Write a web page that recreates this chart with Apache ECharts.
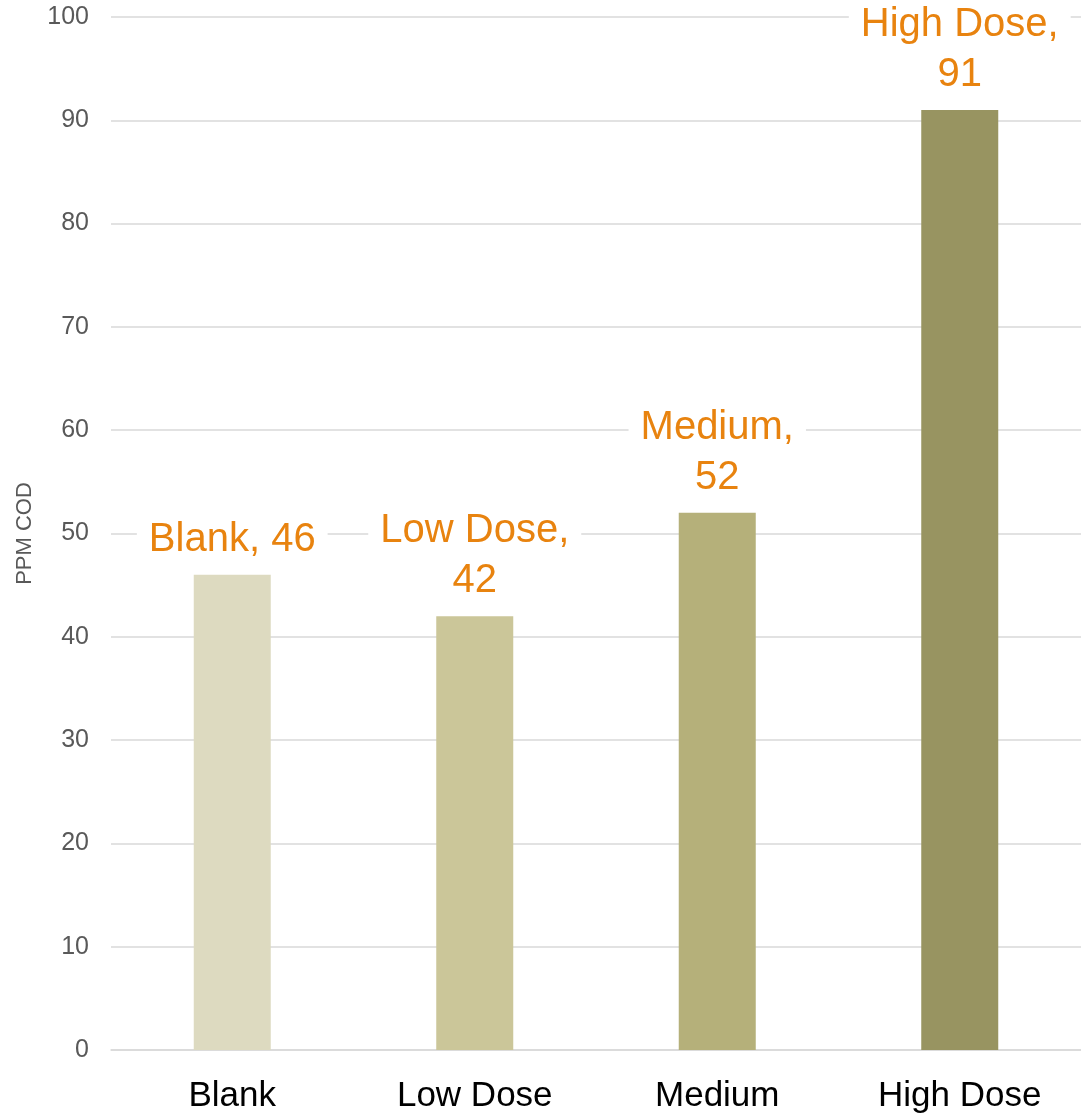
<!DOCTYPE html>
<html>
<head>
<meta charset="utf-8">
<script src="https://cdn.jsdelivr.net/npm/echarts@6/dist/echarts.min.js"></script>
<style>
  html, body { margin: 0; padding: 0; background: #ffffff; }
  #chart { width: 1081px; height: 1117px; }
</style>
</head>
<body>
<div id="chart"></div>
<script>
// Chemical oxygen demand by treatment
const categories = ['Blank', 'Low Dose', 'Medium', 'High Dose'];
const codValues = [46, 42, 52, 91];
const barColors = ['#DDDAC0', '#CBC699', '#B5B07A', '#989461'];
const labelTexts = ['Blank, 46', 'Low Dose,\n42', 'Medium,\n52', 'High Dose,\n91'];

const chart = echarts.init(document.getElementById('chart'));

chart.setOption({
  animation: false,
  backgroundColor: '#ffffff',
  grid: { left: 111, width: 975, top: 17, bottom: 67, containLabel: false },
  xAxis: {
    type: 'category',
    data: categories,
    axisLine: { show: true, lineStyle: { color: '#d9d9d9', width: 1.5 } },
    axisTick: { show: false },
    axisLabel: {
      color: '#000000',
      fontSize: 35,
      fontFamily: 'Liberation Sans, Arial, sans-serif',
      margin: 29
    }
  },
  yAxis: {
    type: 'value',
    min: 0,
    max: 100,
    interval: 10,
    name: 'PPM COD',
    nameLocation: 'middle',
    nameGap: 74,
    nameTextStyle: {
      color: '#595959',
      fontSize: 22,
      fontFamily: 'Liberation Sans, Arial, sans-serif'
    },
    axisLine: { show: false },
    axisTick: { show: false },
    splitLine: { lineStyle: { color: '#d9d9d9', width: 1.5 } },
    axisLabel: {
      color: '#595959',
      fontSize: 25,
      fontFamily: 'Liberation Sans, Arial, sans-serif',
      margin: 22
    }
  },
  series: [{
    type: 'bar',
    barWidth: 77,
    data: codValues.map((v, i) => ({
      value: v,
      itemStyle: { color: barColors[i] },
      label: { formatter: labelTexts[i] }
    })),
    label: {
      show: true,
      position: 'top',
      distance: 10,
      color: '#E8830F',
      fontSize: 40,
      lineHeight: 50,
      fontFamily: 'Liberation Sans, Arial, sans-serif',
      backgroundColor: '#ffffff',
      padding: [0, 12, 0, 12],
      align: 'center'
    }
  }]
});
</script>
</body>
</html>
